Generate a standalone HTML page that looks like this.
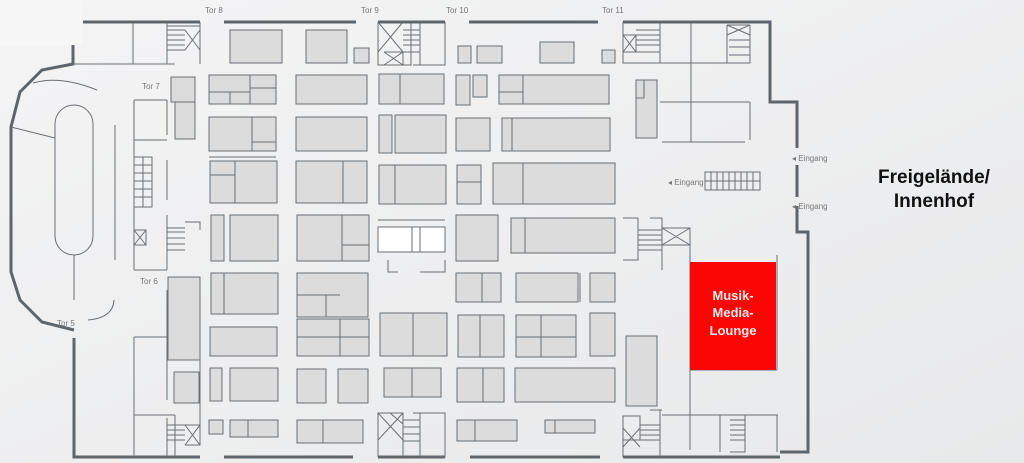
<!DOCTYPE html>
<html><head><meta charset="utf-8"><style>
html,body{margin:0;padding:0;background:#eeeff0}
svg{display:block}
text{font-family:"Liberation Sans",sans-serif}
</style></head><body>
<svg width="1024" height="463" viewBox="0 0 1024 463" xmlns="http://www.w3.org/2000/svg">
<defs>
<linearGradient id="bg" x1="0" y1="0" x2="1" y2="1"><stop offset="0" stop-color="#f4f4f5"/><stop offset="1" stop-color="#e8e9ea"/></linearGradient>
</defs>
<rect width="1024" height="463" fill="url(#bg)"/>
<rect x="0" y="0" width="82" height="45" fill="#f7f7f7"/>
<g stroke="#5f666b" stroke-width="3" fill="none">
<path d="M83 22H200M224 22H356M378 22H445M469 22H598M623 22H770V102H797V148M797 165V197M797 206V232H808V452H780"/>
<path d="M73 45V64L42 70L20 92L11 127V272L20 300L42 322L74 330"/>
<path d="M74 338V457H200M224 457H353M378 457H445M470 457H600M623 457H780"/>
</g>
<g stroke="#6a6f73" stroke-width="1" fill="none">
<rect x="55" y="105" width="38" height="150" rx="19"/>
<path d="M33 83Q60 75 97 90M11 127L55 138M74 255V300M115 125V260M114 300Q113 318 88 320"/>
<path d="M73 64H175M133 22V64M167 22V64M200 22V64M134 100H167M134 100V270M134 140H167M134 270H167M167 100V135M167 160V200M167 215V270M134 337H200V440M134 337V457M167 290V400M134 415H175M175 415V457M167 418V457"/>
<path d="M167 26H200M167 30H185M167 35H185M167 40H185M167 45H185M167 50H185M185 30L200 50M200 30L185 50"/>
<path d="M134 157H152V207H134M134 165H152M134 173H152M134 181H152M134 189H152M134 197H152M143 157V207"/>
<path d="M134 230H146V245H134M134 230L146 245M146 230L134 245M167 228H185M167 232H185M167 238H185M167 244H185M167 250H185M185 222H200V230"/>
<path d="M167 425H185M167 430H185M167 435H185M167 440H185M185 425L200 445M200 425L185 445M185 425H200V445H185"/>
<path d="M378 22V65H411V22M378 22L403 52M403 22L378 52M384 52H403V65M384 52L403 65M403 52L384 65M403 30H420M403 35H420M403 40H420M403 45H420M403 52H420M420 22V65H445V22M413 65H445"/>
<path d="M378 220H445M388 260V272H398M420 272H445V260"/>
<path d="M378 457V413H403V457M378 413L403 440M403 413L378 440M390 413H403V424M390 413L403 424M403 420H420M403 427H420M403 434H420M403 441H420M420 413V457H445V413H413"/>
<path d="M623 22V63H660V22M623 35H636V52H623ZM623 35L636 52M636 35L623 52M636 30H660M636 35H660M636 40H660M636 45H660M636 52H660M648 63H750M691 22V142M660 102H750M662 142H745M750 102V140M750 25V63H727V25M727 25H750M727 25L750 35M750 25L727 35M729 40H750M729 47H750M729 55H750"/>
<path d="M623 218H638V260H623M650 218H662V270M662 228H690V245H662ZM662 228L690 245M690 228L662 245M638 230H662M638 235H662M638 240H662M638 245H662M638 250H662M662 245H690V450M690 245V262M662 415H690M690 370H777M777 255V370M690 415H778M777 415V452M720 415V452M730 415H745V452H730M730 420H745M730 425H745M730 430H745M730 435H745M730 440H745"/>
<path d="M623 457V416H640V440H623ZM623 428L640 447M640 428L623 447M640 425H660M640 430H660M640 435H660M640 440H660M660 410V457M650 410H662"/>
<path d="M705 172H760V190H705ZM711 172V190M717 172V190M723 172V190M729 172V190M735 172V190M741 172V190M747 172V190M753 172V190M705 181H760"/>
</g>
<g fill="#dcdcdc" stroke="#6a6f73" stroke-width="1">
<rect x="230" y="30" width="52" height="33"/><rect x="306" y="30" width="41" height="33"/><rect x="354" y="48" width="15" height="15"/>
<rect x="458" y="46" width="13" height="17"/><rect x="477" y="46" width="25" height="17"/><rect x="540" y="42" width="34" height="21"/><rect x="602" y="50" width="13" height="13"/>
<rect x="171" y="77" width="24" height="25"/><rect x="175" y="102" width="20" height="37"/>
<rect x="209" y="75" width="67" height="29"/><rect x="296" y="75" width="71" height="29"/><rect x="379" y="74" width="65" height="30"/>
<rect x="456" y="75" width="14" height="30"/><rect x="473" y="75" width="14" height="22"/><rect x="499" y="75" width="110" height="29"/>
<rect x="209" y="117" width="67" height="34"/><rect x="296" y="117" width="71" height="34"/><rect x="379" y="115" width="13" height="38"/><rect x="395" y="115" width="51" height="38"/>
<rect x="456" y="118" width="34" height="33"/><rect x="502" y="118" width="108" height="33"/>
<rect x="210" y="161" width="67" height="42"/><rect x="296" y="161" width="71" height="42"/><rect x="379" y="165" width="67" height="39"/><rect x="457" y="165" width="24" height="39"/><rect x="493" y="163" width="122" height="41"/>
<rect x="211" y="215" width="13" height="46"/><rect x="230" y="215" width="48" height="46"/><rect x="297" y="215" width="72" height="46"/>
<rect x="456" y="215" width="42" height="46"/><rect x="511" y="218" width="104" height="35"/>
<rect x="168" y="277" width="32" height="83"/><rect x="211" y="273" width="67" height="41"/><rect x="297" y="273" width="71" height="44"/>
<rect x="456" y="273" width="45" height="29"/><rect x="516" y="273" width="62" height="29"/><rect x="590" y="273" width="25" height="29"/>
<rect x="210" y="327" width="67" height="29"/><rect x="297" y="319" width="72" height="37"/><rect x="380" y="313" width="67" height="43"/>
<rect x="458" y="315" width="46" height="42"/><rect x="516" y="315" width="60" height="42"/><rect x="590" y="313" width="25" height="43"/>
<rect x="174" y="372" width="25" height="31"/><rect x="210" y="368" width="12" height="33"/><rect x="230" y="368" width="48" height="33"/>
<rect x="297" y="369" width="29" height="34"/><rect x="338" y="369" width="30" height="34"/><rect x="384" y="368" width="57" height="29"/>
<rect x="457" y="368" width="47" height="34"/><rect x="515" y="368" width="100" height="34"/><rect x="626" y="336" width="31" height="70"/>
<rect x="209" y="420" width="14" height="14"/><rect x="230" y="420" width="48" height="17"/><rect x="297" y="420" width="66" height="23"/>
<rect x="457" y="420" width="60" height="21"/><rect x="545" y="420" width="50" height="13"/>
<rect x="636" y="80" width="21" height="58"/><rect x="636" y="80" width="8" height="18"/>
<rect x="378" y="227" width="67" height="25" fill="#ffffff"/>
</g>
<g stroke="#6a6f73" stroke-width="1" fill="none">
<path d="M209 92H250M250 75V104M250 88H276M230 92V104M209 157H276M235 161V203M210 175H235M343 161V203M395 165V204M457 182H481M523 163V204M252 117V151M252 142H276"/>
<path d="M342 215V261M342 245H369M400 74V104M412 227V252M420 227V252M499 92H523M523 75V104M512 118V151M525 218V253"/>
<path d="M224 273V314M297 295H340M326 295V317M297 337H369M340 319V356M413 313V356M480 315V357M541 315V357M516 337H576M580 273V302"/>
<path d="M412 368V397M483 368V402M482 273V302M475 420V441M555 420V433M248 420V437M323 420V443"/>
</g>
<rect x="690" y="262" width="86" height="108" fill="#fb0505"/>
<text x="733" y="300" font-size="13" font-weight="bold" fill="#fbeaea" text-anchor="middle">Musik-</text>
<text x="733" y="317" font-size="13" font-weight="bold" fill="#fbeaea" text-anchor="middle">Media-</text>
<text x="733" y="335" font-size="13" font-weight="bold" fill="#fbeaea" text-anchor="middle">Lounge</text>
<g font-size="8" fill="#777">
<text x="205" y="13">Tor 8</text><text x="361" y="13">Tor 9</text><text x="446" y="13">Tor 10</text><text x="602" y="13">Tor 11</text>
<text x="142" y="89">Tor 7</text><text x="140" y="284">Tor 6</text><text x="57" y="326">Tor 5</text>
<text x="792" y="161">◂ Eingang</text><text x="668" y="185">◂ Eingang</text><text x="792" y="209">◂ Eingang</text>
</g>
<text x="934" y="183" font-size="19" font-weight="bold" fill="#111" text-anchor="middle">Freigelände/</text>
<text x="934" y="207" font-size="19" font-weight="bold" fill="#111" text-anchor="middle">Innenhof</text>
</svg>
</body></html>
